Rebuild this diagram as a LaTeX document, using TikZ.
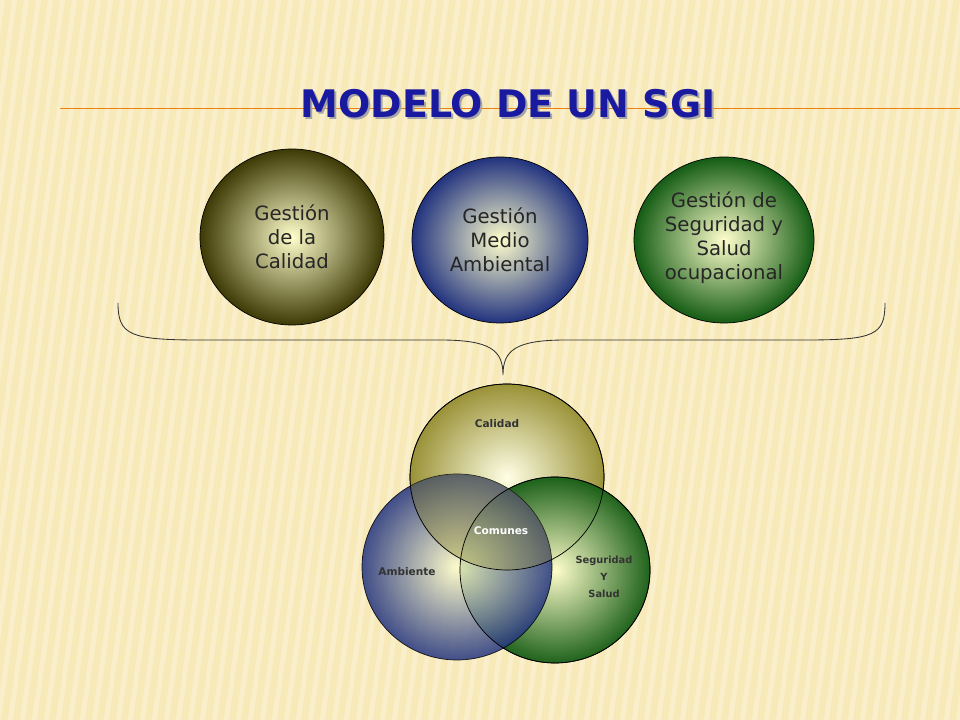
\documentclass[tikz,border=0pt]{standalone}
\usepackage{fontspec}
\setmainfont{DejaVu Sans}
\definecolor{fondo}{HTML}{F8E9B8}
\definecolor{raya}{HTML}{FBF3D8}
\definecolor{titulo}{HTML}{1A1AA0}
\definecolor{oliva}{HTML}{3E3A05}
\definecolor{azul}{HTML}{22337F}
\definecolor{verde}{HTML}{145C14}
\definecolor{caqui}{HTML}{9A9238}
\tikzset{
  bola/.style={draw=black, line width=0.5pt, inner color=white!80!yellow},
  txtbola/.style={align=center, font=\fontsize{14}{17}\selectfont, text=black!85},
  txtvenn/.style={align=center, font=\bfseries\fontsize{7.5}{11}\selectfont, text=black!80},
  txttit/.style={font=\bfseries\fontsize{27}{32}\selectfont}
}
\begin{document}
\begin{tikzpicture}[x=0.025cm, y=-0.025cm]
  %--- fondo con rayas
  \useasboundingbox (0,0) rectangle (960,720);
  \begin{scope}
    \clip (0,0) rectangle (960,720);
    \fill[fondo] (0,0) rectangle (960,720);
    \foreach \i in {0,12,...,1100}
      \fill[raya, opacity=0.6] (\i,0) -- (\i+5,0) -- (\i-95,720) -- (\i-100,720) -- cycle;
  \end{scope}
  \draw[orange!70!brown, line width=0.6pt] (60,108) -- (960,108);

  %--- titulo (con sombra)
  \node[txttit, text=black!35] (sombra) at (510,106) {MODELO DE UN SGI};
  \node[txttit, text=titulo] (tit) at (508,104) {MODELO DE UN SGI};

  %--- tres sistemas
  \coordinate (cal) at (292,237);
  \coordinate (amb) at (500,240);
  \coordinate (seg) at (724,240);
  \shade[bola, outer color=oliva] (cal) ellipse [x radius=92, y radius=88];
  \shade[bola, outer color=azul] (amb) ellipse [x radius=88, y radius=83];
  \shade[bola, outer color=verde] (seg) ellipse [x radius=90, y radius=83];
  \node[txtbola] (tcal) at (cal) {Gestión\\de la\\Calidad};
  \node[txtbola] (tamb) at (amb) {Gestión\\Medio\\Ambiental};
  \node[txtbola] (tseg) at (724,238) {Gestión de\\Seguridad y\\Salud\\ocupacional};

  %--- llave
  \coordinate (bi) at (118,303);
  \coordinate (bd) at (885,303);
  \coordinate (bp) at (503,375);
  \draw[black!80, line width=0.6pt] (bi) .. controls (118,335) and (130,340) .. (200,340)
    -- (440,340) .. controls (490,340) and (503,350) .. (bp)
    .. controls (503,350) and (516,340) .. (566,340) -- (805,340)
    .. controls (875,340) and (885,335) .. (bd);

  %--- diagrama de Venn
  \coordinate (vcal) at (507,477);
  \coordinate (vseg) at (555,570);
  \coordinate (vamb) at (457,567);
  \shade[bola, outer color=caqui, inner color=yellow!10] (vcal) ellipse [x radius=97, y radius=93];
  \shade[bola, outer color=verde, opacity=0.95] (vseg) ellipse [x radius=95, y radius=93];
  \shade[bola, outer color=azul, opacity=0.85] (vamb) ellipse [x radius=95, y radius=93];
  \begin{scope}
    \clip (vcal) ellipse [x radius=97, y radius=93];
    \fill[caqui, opacity=0.35] (vamb) ellipse [x radius=95, y radius=93];
  \end{scope}
  \draw[black, line width=0.5pt] (vcal) ellipse [x radius=97, y radius=93];
  \draw[black, line width=0.5pt] (vseg) ellipse [x radius=95, y radius=93];
  \node[txtvenn] (lcal) at (497,424) {Calidad};
  \node[txtvenn, text=white] (lcom) at (501,531) {Comunes};
  \node[txtvenn] (lamb) at (407,572) {Ambiente};
  \node[txtvenn, font=\bfseries\fontsize{7}{12}\selectfont] (lseg) at (604,577) {Seguridad\\Y\\Salud};
\end{tikzpicture}
\end{document}
